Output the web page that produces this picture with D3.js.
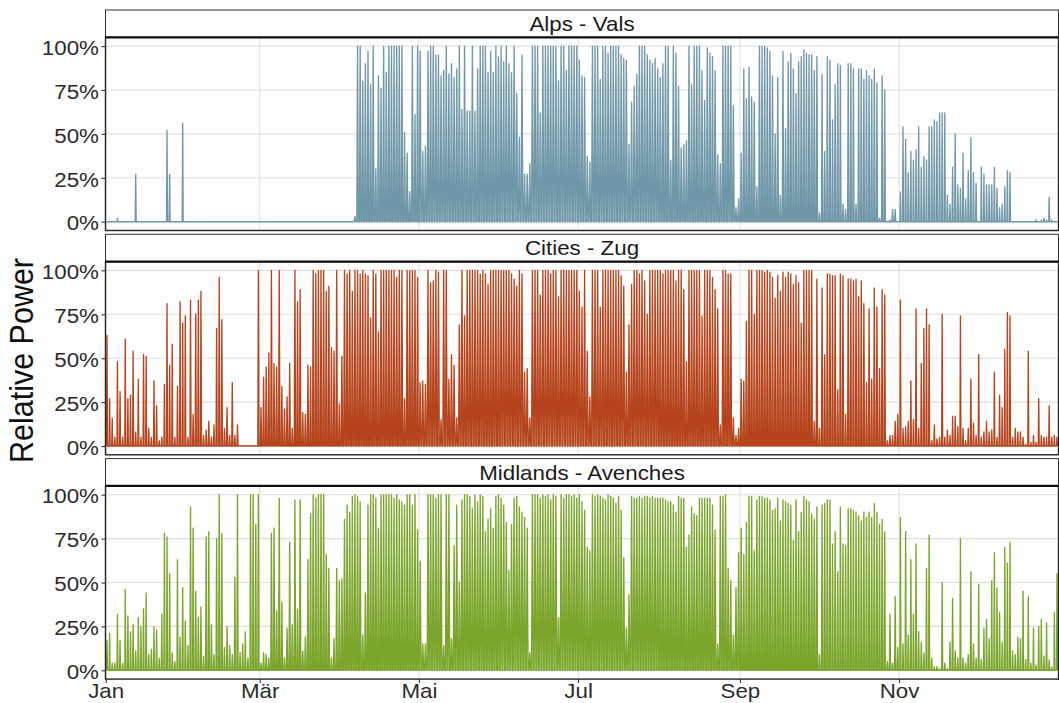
<!DOCTYPE html>
<html>
<head>
<meta charset="utf-8">
<script src="https://cdn.jsdelivr.net/npm/d3@7"></script>
<style>
  html, body { margin: 0; padding: 0; background: #fff; }
  svg { display: block; }
  text { font-family: "Liberation Sans", Arial, Helvetica, sans-serif; }
</style>
</head>
<body>
<svg id="chart" width="1059" height="703"></svg>
<script>
// Facet titles and line colours, top to bottom
const sites = ["Alps - Vals", "Cities - Zug", "Midlands - Avenches"];
const siteColors = ["#6f97a8", "#b5441d", "#7aa52a"];

// X axis: labelled months (every second month) and their labels
const monthTickIndex = [0, 2, 4, 6, 8, 10];
const monthTickLabels = ["Jan", "Mär", "Mai", "Jul", "Sep", "Nov"];

// Y axis ticks (share of rated power)
const yTickValues = [0, 0.25, 0.5, 0.75, 1];

// Approximate hours of daylight per month; sets the width of each daily spike
const daylightHours = [8.7, 10.0, 11.8, 13.5, 15.0, 15.8, 15.4, 14.2, 12.5, 10.8, 9.2, 8.4];

// Daily peak of relative power in percent, 1 Jan .. 31 Dec
const alpsPeak = [
  0,0,0,0,2,0,0,0,0,0, 0,27,0,0,0,0,0,0,0,0, 0,0,0,52,27,0,0,0,0,56, 0,
  0,0,0,0,0,0,0,0,0,0, 0,0,0,0,0,0,0,0,0,0, 0,0,0,0,0,0,0,0,0,0,
  0,0,0,0,0,0,0,0,0,0, 0,0,0,0,0,0,0,0,0,0, 0,0,0,0,0,0,0,0,0,0,
  0,0,0,0,
  3,
  100,100,80,90,97,78,100,30,83,76,
  100,85,100,100,100,100,100,100,51,39,
  17,100,61,100,97,40,43,97,
  100,100,95,95,83,86,100,84,90,82,
  87,100,64,100,63,63,100,63,87,100,
  100,100,85,97,85,100,94,100,91,100,
  90,85,100,73,48,95,27,27,33,100,
  100,100,62,100,100,100,100,100,100,80,
  100,100,86,100,100,100,100,92,83,82,
  37,34,100,100,100,81,100,100,96,100,
  100,100,100,95,93,92,44,68,77,84,
  100,100,100,95,92,90,93,87,82,90,
  100,100,35,100,96,77,42,44,46,100,
  78,100,100,100,86,69,99,96,94,86,
  38,33,100,100,100,100,66,8,13,39,
  87,
  70,88,
  71,68,20,100,100,100,99,97,83,50,
  82,15,97,53,91,96,87,73,91,94,
  98,96,95,95,86,94,5,84,40,94,
  92,58,78,90,89,10,7,90,90,87,
  10,87,87,81,86,83,81,87,79,2,
  83,75,0,1,7,7,0,17,54,47,
  28,40,35,41,54,31,37,35,54,54,
  58,57,62,62,62,15,10,31,50,21,
  19,39,13,29,48,28,22,0,31,27,
  21,21,21,31,19,8,10,20,29,28,
  0,0,0,0,0,0,0,0,0,1,0,1,2,1,14,1,0,0
];

const citiesPeak = [
  63,27,16,5,48,31,5,61,27,29,
  54,8,38,5,52,51,10,5,37,23,
  3,5,35,81,46,58,5,34,82,70,
  74,5,83,18,75,83,88,6,9,14,
  5,12,67,96,72,10,22,6,36,6,
  12,0,0,0,0,0,0,0,100,22,
  39,45,53,100,47,45,100,34,21,28,
  47,10,100,82,89,19,18,46,45,100,
  98,100,100,100,88,91,56,54,100,24,
  51,100,98,100,88,100,100,98,100,98,
  97,73,100,98,65,100,100,100,100,100,
  100,96,100,100,27,100,100,100,100,96,
  36,37,35,
  100,93,94,100,99,15,100,100,38,52,
  46,16,69,100,74,100,100,100,100,100,
  98,100,98,92,100,100,100,100,100,100,
  100,
  100,98,95,91,100,98,42,44,16,100,
  100,100,86,100,100,100,98,100,100,85,
  100,100,100,100,100,100,100,88,79,100,
  54,28,100,100,100,79,100,100,100,100,
  100,100,100,97,91,42,69,92,100,100,
  98,
  100,94,75,100,100,100,100,100,98,100,
  100,100,100,94,100,100,89,48,100,100,
  100,100,100,74,100,100,100,96,89,78,
  12,100,100,98,98,16,6,10,38,37,
  71,100,100,75,100,100,100,99,100,99,
  96,84,97,88,99,96,99,98,92,97,
  93,70,100,100,100,100,14,95,10,90,
  52,98,98,97,97,32,98,97,18,95,
  95,94,95,85,94,81,36,78,38,90,
  79,44,89,86,3,6,6,14,18,83,
  10,11,14,37,15,78,10,47,67,78,
  69,3,12,4,5,75,5,9,6,17,
  17,11,74,10,3,10,38,13,6,52,
  5,8,14,8,9,42,5,29,22,55,
  76,74,5,10,8,8,5,1,54,2,
  6,2,27,6,5,5,23,5,6,5
];

const midlandsPeak = [
  17,21,4,4,32,17,4,46,31,22,
  26,11,30,25,35,44,9,12,25,23,
  7,32,78,76,55,10,5,63,19,47,
  28,14,93,81,45,30,36,8,76,79,
  26,9,75,100,78,13,25,14,9,53,
  100,10,15,22,7,100,100,83,100,4,
  10,9,7,78,81,34,98,39,7,24,
  73,26,97,35,97,11,19,63,89,100,
  98,100,100,100,66,58,7,18,58,51,
  52,86,94,90,99,100,99,96,20,44,
  94,100,100,98,81,100,100,100,100,100,
  98,100,97,96,94,100,100,94,100,80,
  62,15,15,
  100,
  100,100,98,100,100,14,100,100,18,71,
  94,50,97,100,100,99,92,100,96,100,
  99,79,86,92,81,99,100,98,94,84,
  57,83,98,99,93,90,87,81,10,100,
  100,100,98,100,99,100,97,100,99,30,
  100,98,100,100,99,100,98,100,96,91,
  70,68,100,99,100,99,98,97,100,99,
  98,95,99,91,64,24,43,99,98,98,
  99,98,99,99,98,99,98,98,98,98,
  97,96,96,94,90,99,98,98,70,77,
  93,89,88,98,98,98,98,98,94,80,
  15,99,99,100,58,51,20,47,67,81,
  66,84,99,99,68,97,99,99,98,98,
  97,91,92,98,85,97,96,95,94,74,
  97,79,90,99,97,96,89,86,93,9,
  94,95,97,97,72,79,56,93,72,71,
  92,92,91,90,88,85,90,87,90,87,
  95,90,83,86,79,5,32,4,42,13,
  87,15,79,20,63,32,72,22,16,10,
  58,77,7,2,2,1,50,4,1,16,
  41,11,7,75,7,4,9,56,15,7,
  49,6,24,29,18,51,67,47,33,16,
  70,61,73,11,9,19,18,45,6,42,
  4,24,3,25,29,8,27,6,2,33,
  55
];

const peaks = [alpsPeak, citiesPeak, midlandsPeak];

// ---- layout ----
const plotLeft = 105.5, plotRight = 1058.5;
const firstPanelTop = 37.3, panelPitch = 224.3, panelH = 193.2, stripH = 27.3;
const fontSize = 20.5, textStretch = 1.09;

const svg = d3.select("#chart");
const HOUR = 3600 * 1000, DAY = 24 * HOUR;
const yearStart = Date.UTC(2019, 0, 1), yearEnd = Date.UTC(2020, 0, 1);

const x = d3.scaleUtc()
  .domain([new Date(yearStart), new Date(yearEnd)])
  .range([105.7, 1058.3]);

// one spike per day: zero at sunrise, peak at noon, zero at sunset
function dailySeries(values) {
  const pts = [];
  values.forEach((v, d) => {
    const dayStart = yearStart + d * DAY;
    const m = new Date(dayStart).getUTCMonth();
    const half = daylightHours[m] / 2 * HOUR;
    const noon = dayStart + 12 * HOUR;
    pts.push({ t: noon - half, v: 0 });
    pts.push({ t: noon, v: v / 100 });
    pts.push({ t: noon + half, v: 0 });
  });
  return pts;
}

sites.forEach((name, i) => {
  const top = firstPanelTop + i * panelPitch;
  const bottom = top + panelH;
  const y = d3.scaleLinear().domain([-0.05, 1.05]).range([bottom, top]);
  const g = svg.append("g");

  // panel background
  g.append("rect")
    .attr("x", plotLeft).attr("y", top)
    .attr("width", plotRight - plotLeft).attr("height", panelH)
    .attr("fill", "#fff");

  // major gridlines
  g.append("g").selectAll("line").data(yTickValues).join("line")
    .attr("x1", plotLeft).attr("x2", plotRight)
    .attr("y1", d => y(d)).attr("y2", d => y(d))
    .attr("stroke", "#e0e0e0").attr("stroke-width", 1.1);
  g.append("g").selectAll("line").data(monthTickIndex).join("line")
    .attr("x1", m => x(new Date(Date.UTC(2019, m, 1))))
    .attr("x2", m => x(new Date(Date.UTC(2019, m, 1))))
    .attr("y1", top).attr("y2", bottom)
    .attr("stroke", "#e0e0e0").attr("stroke-width", 1.1);

  // clip for data
  const clipId = "clip" + i;
  svg.append("clipPath").attr("id", clipId)
    .append("rect")
    .attr("x", plotLeft).attr("y", top)
    .attr("width", plotRight - plotLeft).attr("height", panelH);

  const line = d3.line()
    .x(p => x(new Date(p.t)))
    .y(p => y(p.v));

  g.append("path")
    .datum(dailySeries(peaks[i]))
    .attr("clip-path", `url(#${clipId})`)
    .attr("d", line)
    .attr("fill", "none")
    .attr("stroke", siteColors[i])
    .attr("stroke-width", 1.35)
    .attr("stroke-linejoin", "round");

  // panel border
  g.append("rect")
    .attr("x", plotLeft).attr("y", top)
    .attr("width", plotRight - plotLeft).attr("height", panelH)
    .attr("fill", "none").attr("stroke", "#222").attr("stroke-width", 1.4);

  // facet strip
  g.append("rect")
    .attr("x", plotLeft).attr("y", top - stripH)
    .attr("width", plotRight - plotLeft).attr("height", stripH)
    .attr("fill", "#fff").attr("stroke", "#333").attr("stroke-width", 1);
  g.append("line")
    .attr("x1", plotLeft).attr("x2", plotRight)
    .attr("y1", top).attr("y2", top)
    .attr("stroke", "#111").attr("stroke-width", 2.2);
  g.append("text")
    .attr("transform", `translate(${(plotLeft + plotRight) / 2},${top - stripH / 2 + 7.4}) scale(${textStretch},1)`)
    .attr("text-anchor", "middle")
    .attr("font-size", fontSize)
    .attr("fill", "#1a1a1a")
    .text(name);

  // y axis
  const yAxis = g.append("g")
    .attr("transform", `translate(${plotLeft},0)`)
    .call(d3.axisLeft(y).tickValues(yTickValues).tickFormat(d3.format(".0%")).tickSize(4).tickPadding(2));
  yAxis.select(".domain").remove();
  yAxis.selectAll(".tick line").attr("stroke", "#333").attr("stroke-width", 1.1);
  yAxis.selectAll(".tick text")
    .attr("font-size", fontSize)
    .attr("font-family", null)
    .attr("fill", "#2b2b2b")
    .attr("dy", "0.40em")
    .attr("transform", `scale(${textStretch},1)`);

  // x axis on the bottom panel only
  if (i === sites.length - 1) {
    const xAxis = g.append("g")
      .attr("transform", `translate(0,${bottom})`)
      .call(d3.axisBottom(x)
        .tickValues(monthTickIndex.map(m => new Date(Date.UTC(2019, m, 1))))
        .tickFormat((d, k) => monthTickLabels[k])
        .tickSize(4).tickPadding(0));
    xAxis.select(".domain").remove();
    xAxis.selectAll(".tick line").attr("stroke", "#333").attr("stroke-width", 1.1);
    xAxis.selectAll(".tick text")
      .attr("font-size", fontSize)
      .attr("font-family", null)
      .attr("fill", "#2b2b2b")
      .attr("y", 4)
      .attr("dy", "0.71em")
      .attr("transform", `scale(${textStretch},1)`);
  }
});

// shared y axis title
svg.append("text")
  .attr("transform", `translate(33,360.5) scale(${textStretch},1) rotate(-90)`)
  .attr("text-anchor", "middle")
  .attr("font-size", 30.5)
  .attr("fill", "#111")
  .text("Relative Power");
</script>
</body>
</html>
